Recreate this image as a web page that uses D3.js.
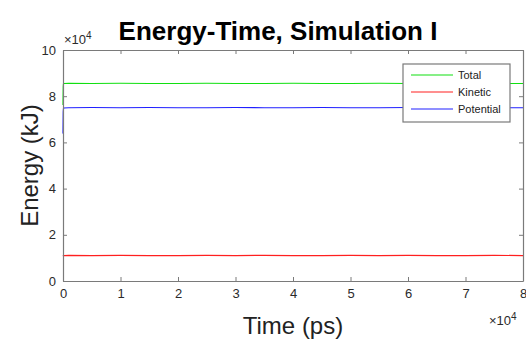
<!DOCTYPE html>
<html>
<head>
<meta charset="utf-8">
<script src="https://cdn.jsdelivr.net/npm/d3@7"></script>
<style>
  body { margin: 0; background: #fff; }
  text { font-family: "Liberation Sans", Arial, sans-serif; }
</style>
</head>
<body>
<div id="chart"></div>
<script>
// time in ps, energies in kJ (x1e4 on the axes)
const times     = [0, 40, 80, 150, 1000, 5000, 10000, 15000, 20000, 25000, 30000, 35000, 40000, 45000, 50000, 55000, 60000, 65000, 70000, 75000, 80000];
const total     = [7.62, 8.40, 8.53, 8.55, 8.56, 8.55, 8.56, 8.55, 8.55, 8.56, 8.55, 8.55, 8.56, 8.55, 8.55, 8.56, 8.55, 8.55, 8.56, 8.55, 8.55];
const kinetic   = [1.12, 1.10, 1.11, 1.10, 1.11, 1.10, 1.11, 1.10, 1.10, 1.11, 1.10, 1.11, 1.10, 1.10, 1.11, 1.10, 1.11, 1.10, 1.10, 1.11, 1.10];
const potential = [6.38, 7.30, 7.46, 7.49, 7.50, 7.51, 7.50, 7.51, 7.50, 7.50, 7.51, 7.50, 7.50, 7.51, 7.50, 7.50, 7.51, 7.50, 7.51, 7.50, 7.50];
const seriesNames = ["Total", "Kinetic", "Potential"];
const seriesColors = ["#10e010", "#ff2020", "#2020ff"];
const xTicks = [0, 1, 2, 3, 4, 5, 6, 7, 8];
const yTicks = [0, 2, 4, 6, 8, 10];

const width = 526, height = 340;
const margin = { top: 50, right: 3, bottom: 59, left: 63 };
const w = width - margin.left - margin.right;
const h = height - margin.top - margin.bottom;
const axisColor = "#7a7a7a";
const textColor = "#2a2a2a";

const svg = d3.select("#chart").append("svg")
  .attr("width", width)
  .attr("height", height);

const g = svg.append("g")
  .attr("transform", `translate(${margin.left},${margin.top})`);

const x = d3.scaleLinear().domain([0, 8]).range([0, w]);
const y = d3.scaleLinear().domain([0, 10]).range([h, 0]);

// lines
const series = [total, kinetic, potential];
const line = d3.line()
  .x((d, i) => x(times[i] / 1e4))
  .y(d => y(d));

series.forEach((vals, k) => {
  g.append("path")
    .datum(vals)
    .attr("fill", "none")
    .attr("stroke", seriesColors[k])
    .attr("stroke-width", 1.2)
    .attr("d", line);
});

// axes (box style)
function styleAxis(sel) {
  sel.select(".domain").attr("stroke", axisColor).attr("stroke-width", 1.2);
  sel.selectAll(".tick line").attr("stroke", axisColor);
  sel.selectAll(".tick text").attr("fill", textColor).style("font-size", "13px")
    .style("font-family", "Liberation Sans, Arial, sans-serif");
}

g.append("g")
  .attr("transform", `translate(0,${h})`)
  .call(d3.axisBottom(x).tickValues(xTicks).tickSize(-4).tickPadding(8).tickSizeOuter(0))
  .call(styleAxis);

g.append("g")
  .call(d3.axisTop(x).tickValues(xTicks).tickSize(-4).tickFormat("").tickSizeOuter(0))
  .call(styleAxis);

g.append("g")
  .call(d3.axisLeft(y).tickValues(yTicks).tickSize(-4).tickPadding(7).tickSizeOuter(0))
  .call(styleAxis);

g.append("g")
  .attr("transform", `translate(${w},0)`)
  .call(d3.axisRight(y).tickValues(yTicks).tickSize(-4).tickFormat("").tickSizeOuter(0))
  .call(styleAxis);

// exponent labels
const expTop = svg.append("text")
  .attr("x", margin.left + 1).attr("y", margin.top - 6)
  .attr("fill", textColor).style("font-size", "13px");
expTop.append("tspan").text("\u00d710");
expTop.append("tspan").attr("dy", -5).style("font-size", "10px").text("4");

const expBot = svg.append("text")
  .attr("x", 489).attr("y", 325)
  .attr("fill", textColor).style("font-size", "13px");
expBot.append("tspan").text("\u00d710");
expBot.append("tspan").attr("dy", -5).style("font-size", "10px").text("4");

// title and axis labels
svg.append("text")
  .attr("x", 278).attr("y", 40)
  .attr("text-anchor", "middle")
  .style("font-size", "26px")
  .style("font-weight", "bold")
  .attr("fill", "#000")
  .text("Energy-Time, Simulation I");

svg.append("text")
  .attr("x", margin.left + w / 2).attr("y", 334)
  .attr("text-anchor", "middle")
  .style("font-size", "24px")
  .attr("fill", "#222")
  .text("Time (ps)");

svg.append("text")
  .attr("transform", `translate(38,${margin.top + h / 2}) rotate(-90)`)
  .attr("text-anchor", "middle")
  .style("font-size", "24px")
  .attr("fill", "#222")
  .text("Energy (kJ)");

// legend
const legend = svg.append("g").attr("transform", "translate(403,64)");
legend.append("rect")
  .attr("width", 107).attr("height", 58)
  .attr("fill", "#fff")
  .attr("stroke", axisColor)
  .attr("stroke-width", 1.2);

seriesNames.forEach((name, k) => {
  const ly = 11 + k * 17;
  legend.append("line")
    .attr("x1", 8).attr("x2", 50)
    .attr("y1", ly).attr("y2", ly)
    .attr("stroke", seriesColors[k])
    .attr("stroke-width", 1.2);
  legend.append("text")
    .attr("x", 55).attr("y", ly + 4)
    .style("font-size", "11px")
    .attr("fill", "#222")
    .text(name);
});
</script>
</body>
</html>
